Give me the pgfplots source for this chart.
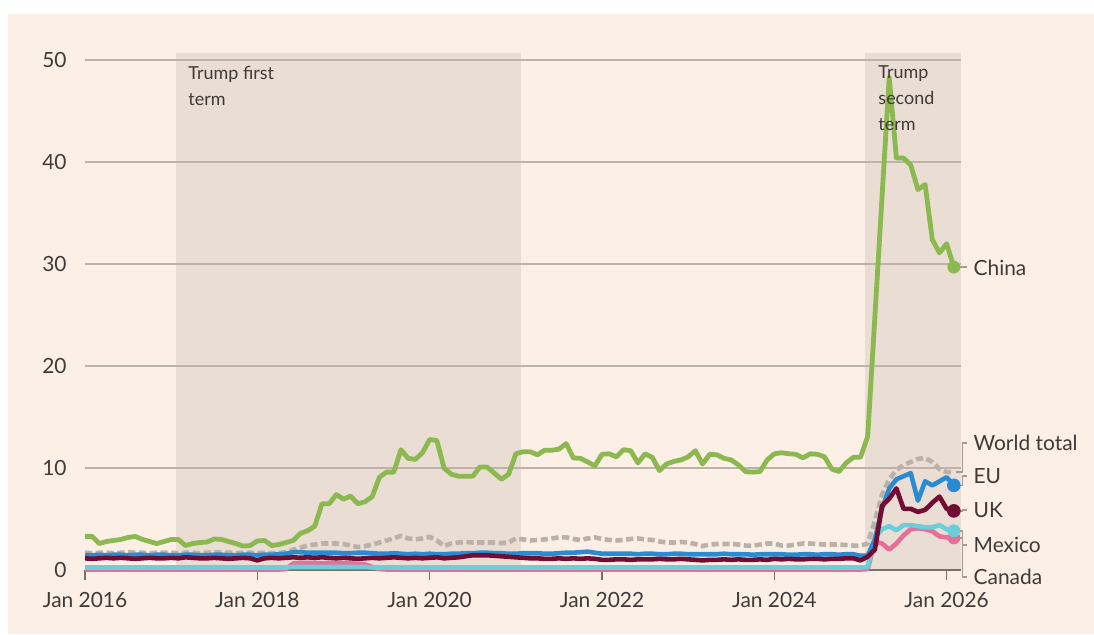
\documentclass[border=0pt]{standalone}
\usepackage{pgfplots}
\pgfplotsset{compat=1.18}
\usepackage{pgfplotstable}
\usepackage{fontspec}
\setmainfont{Lato}

\definecolor{panel}{HTML}{FCF0E6}
\definecolor{shade}{HTML}{E9DDD4}
\definecolor{gridc}{HTML}{BDB2AA}
\definecolor{tickc}{HTML}{77706B}
\definecolor{txt}{HTML}{3F3A38}
\definecolor{leader}{HTML}{A39A94}
\definecolor{chinac}{HTML}{8CB850}
\definecolor{worldc}{HTML}{BAB1AA}
\definecolor{euc}{HTML}{2A8BD0}
\definecolor{ukc}{HTML}{720C33}
\definecolor{mexc}{HTML}{6ACFD8}
\definecolor{canc}{HTML}{E4709A}

\pgfplotsset{
  layers/bgset/.define layer set={bgpanel,axis background,axis grid,axis ticks,
    axis lines,axis tick labels,main,axis descriptions,axis foreground}{},
}

% months since Jan 2016; tariff rate, %
\pgfplotstableread{
m china world eu uk mex can
0 3.3 1.70 1.45 1.15 0.25 0.05
1 3.3 1.65 1.45 1.10 0.25 0.05
2 2.6 1.70 1.50 1.15 0.25 0.05
3 2.8 1.70 1.45 1.20 0.25 0.05
4 2.9 1.65 1.50 1.15 0.25 0.05
5 3.0 1.70 1.50 1.20 0.25 0.05
6 3.2 1.75 1.45 1.15 0.25 0.05
7 3.3 1.70 1.50 1.10 0.25 0.05
8 3.0 1.70 1.50 1.15 0.25 0.05
9 2.8 1.65 1.45 1.20 0.25 0.05
10 2.6 1.70 1.50 1.15 0.25 0.05
11 2.8 1.70 1.50 1.15 0.25 0.05
12 3.0 1.70 1.45 1.20 0.25 0.05
13 3.0 1.65 1.45 1.15 0.25 0.05
14 2.4 1.70 1.50 1.25 0.25 0.05
15 2.6 1.70 1.50 1.20 0.25 0.05
16 2.7 1.65 1.45 1.15 0.25 0.05
17 2.75 1.70 1.45 1.15 0.25 0.05
18 3.05 1.75 1.50 1.20 0.25 0.05
19 3.0 1.70 1.50 1.15 0.25 0.05
20 2.8 1.70 1.45 1.10 0.25 0.05
21 2.6 1.65 1.45 1.15 0.25 0.05
22 2.35 1.70 1.50 1.20 0.25 0.05
23 2.4 1.70 1.50 1.15 0.25 0.05
24 2.85 1.65 1.45 0.95 0.25 0.05
25 2.9 1.70 1.50 1.15 0.25 0.05
26 2.4 1.65 1.50 1.20 0.25 0.05
27 2.5 1.70 1.55 1.15 0.25 0.05
28 2.7 1.75 1.60 1.20 0.25 0.10
29 2.9 2.00 1.75 1.25 0.30 0.65
30 3.6 2.20 1.75 1.20 0.30 0.70
31 3.85 2.40 1.70 1.25 0.30 0.70
32 4.3 2.50 1.70 1.20 0.30 0.70
33 6.5 2.60 1.70 1.25 0.30 0.65
34 6.5 2.60 1.70 1.20 0.30 0.70
35 7.4 2.60 1.70 1.15 0.30 0.70
36 6.95 2.55 1.65 1.20 0.30 0.65
37 7.25 2.40 1.65 1.15 0.30 0.65
38 6.5 2.25 1.70 1.10 0.30 0.60
39 6.7 2.35 1.70 1.15 0.30 0.55
40 7.2 2.50 1.65 1.20 0.25 0.30
41 9.1 2.70 1.60 1.15 0.25 0.10
42 9.6 2.90 1.60 1.20 0.25 0.05
43 9.6 3.10 1.65 1.25 0.25 0.05
44 11.8 3.35 1.60 1.20 0.25 0.05
45 10.95 3.10 1.55 1.15 0.25 0.05
46 10.85 3.00 1.60 1.20 0.25 0.05
47 11.5 3.10 1.55 1.15 0.25 0.05
48 12.8 3.25 1.60 1.20 0.25 0.05
49 12.7 2.90 1.55 1.25 0.25 0.05
50 10.0 2.35 1.55 1.15 0.25 0.05
51 9.4 2.60 1.60 1.20 0.25 0.05
52 9.2 2.70 1.60 1.25 0.25 0.05
53 9.2 2.75 1.65 1.35 0.25 0.05
54 9.2 2.70 1.65 1.45 0.25 0.05
55 10.1 2.70 1.70 1.45 0.25 0.05
56 10.1 2.70 1.70 1.45 0.25 0.05
57 9.5 2.70 1.65 1.40 0.25 0.05
58 8.9 2.65 1.65 1.35 0.25 0.05
59 9.4 2.70 1.60 1.30 0.25 0.05
60 11.4 3.10 1.60 1.25 0.25 0.05
61 11.6 3.00 1.65 1.20 0.25 0.05
62 11.6 2.90 1.65 1.15 0.25 0.05
63 11.3 2.95 1.65 1.15 0.25 0.05
64 11.75 3.00 1.60 1.10 0.25 0.05
65 11.75 3.10 1.60 1.10 0.25 0.05
66 11.85 3.20 1.65 1.15 0.25 0.05
67 12.4 3.20 1.70 1.10 0.25 0.05
68 11.0 3.05 1.70 1.15 0.25 0.05
69 10.95 2.95 1.75 1.10 0.25 0.05
70 10.6 3.10 1.80 1.15 0.25 0.05
71 10.2 3.20 1.70 1.10 0.25 0.05
72 11.35 3.05 1.60 1.00 0.25 0.05
73 11.4 2.95 1.60 1.00 0.25 0.05
74 11.1 2.90 1.60 1.05 0.25 0.05
75 11.8 2.95 1.60 1.05 0.25 0.05
76 11.7 3.05 1.60 1.00 0.25 0.05
77 10.5 3.10 1.55 1.05 0.25 0.05
78 11.4 3.00 1.60 1.05 0.25 0.05
79 11.05 2.95 1.60 1.05 0.25 0.05
80 9.75 2.80 1.55 1.10 0.25 0.05
81 10.4 2.70 1.55 1.05 0.25 0.05
82 10.65 2.70 1.60 1.05 0.25 0.05
83 10.8 2.75 1.60 1.10 0.25 0.05
84 11.1 2.70 1.55 1.05 0.25 0.05
85 11.7 2.55 1.55 1.00 0.25 0.05
86 10.4 2.35 1.55 0.95 0.25 0.05
87 11.35 2.50 1.55 1.00 0.25 0.05
88 11.3 2.55 1.55 1.00 0.25 0.05
89 10.95 2.55 1.60 1.05 0.25 0.05
90 10.8 2.55 1.55 1.00 0.25 0.05
91 10.3 2.50 1.55 1.05 0.25 0.05
92 9.65 2.40 1.55 1.00 0.25 0.05
93 9.6 2.40 1.50 1.00 0.25 0.05
94 9.65 2.50 1.55 1.05 0.25 0.05
95 10.8 2.60 1.55 1.00 0.25 0.05
96 11.4 2.60 1.55 1.10 0.25 0.05
97 11.5 2.40 1.55 1.05 0.25 0.05
98 11.4 2.40 1.50 1.10 0.25 0.05
99 11.35 2.50 1.50 1.05 0.25 0.05
100 11.0 2.60 1.55 1.05 0.25 0.05
101 11.4 2.60 1.55 1.10 0.25 0.05
102 11.35 2.55 1.50 1.10 0.25 0.05
103 11.1 2.50 1.55 1.05 0.25 0.05
104 9.9 2.50 1.55 1.10 0.25 0.05
105 9.65 2.50 1.50 1.10 0.25 0.05
106 10.5 2.45 1.55 1.15 0.25 0.05
107 11.05 2.40 1.55 1.15 0.25 0.05
108 11.05 2.40 1.40 0.95 0.25 0.05
109 13.1 2.60 1.40 1.30 0.30 0.10
110 24.8 4.80 3.00 2.00 3.20 2.80
111 36.6 7.40 6.00 6.30 4.00 2.60
112 48.3 8.90 8.00 7.00 4.30 2.00
113 40.4 9.80 8.90 8.00 3.90 2.60
114 40.4 10.30 9.20 6.00 4.40 3.40
115 39.7 10.60 9.50 6.00 4.40 4.00
116 37.3 10.90 6.80 5.70 4.30 4.10
117 37.8 11.00 8.70 5.90 4.20 4.00
118 32.4 10.60 8.30 6.60 4.20 3.80
119 31.1 9.90 8.70 7.20 4.40 3.30
120 32.0 9.60 9.10 6.00 4.00 3.20
121 29.7 9.60 8.30 5.80 3.85 3.15
}\tariffs

\begin{document}
\begin{tikzpicture}
\begin{axis}[
  set layers=bgset,
  at={(0,0)},anchor=south west,
  scale only axis,width=438bp,height=258.3bp,
  xmin=0,xmax=122,ymin=0,ymax=50.65,
  clip=false,
  axis x line*=bottom,axis y line*=left,
  x axis line style={-,draw=tickc,line width=0.8bp},
  y axis line style={draw=none},
  xtick={0,24,48,72,96,120},
  xticklabels={Jan 2016,Jan 2018,Jan 2020,Jan 2022,Jan 2024,Jan 2026},
  xtick align=outside,major tick length=5bp,
  xtick style={draw=tickc,line width=0.8bp},
  ytick={0,10,20,30,40,50},ytick style={draw=none},
  ymajorgrids,grid style={draw=gridc,line width=1bp},
  /pgf/number format/assume math mode=true,
  tick label style={font=\fontsize{10.5}{12}\selectfont,text=txt},
  yticklabel style={anchor=east,inner sep=0pt,xshift=-9bp},
  xticklabel style={anchor=north,inner sep=0pt,yshift=-6bp},
  every axis plot/.append style={line join=round},
]
\pgfonlayer{bgpanel}
\fill[white] (axis cs:-11.84,-6.28) rectangle (axis cs:140.52,55.89);
\fill[panel] (axis cs:-10.72,-6.28) rectangle (axis cs:140.52,54.52);
\endpgfonlayer

% presidential terms
\addplot[on layer=axis background,draw=none,fill=shade]
  coordinates {(12.65,50.65) (60.65,50.65)} \closedcycle;
\addplot[on layer=axis background,draw=none,fill=shade]
  coordinates {(108.65,50.65) (122,50.65)} \closedcycle;

\addplot[worldc,line width=2.3bp,dash pattern=on 3.6bp off 1.8bp]
  table[x=m,y=world]{\tariffs};
\addplot[canc,line width=2.3bp] table[x=m,y=can]{\tariffs};
\addplot[mexc,line width=2.3bp] table[x=m,y=mex]{\tariffs};
\addplot[euc,line width=2.3bp] table[x=m,y=eu]{\tariffs};
\addplot[ukc,line width=2.3bp] table[x=m,y=uk]{\tariffs};
\addplot[chinac,line width=2.4bp] table[x=m,y=china]{\tariffs};

% end dots
\addplot[canc,only marks,mark=*,mark size=3bp,mark options={draw=none,fill=canc}] coordinates {(121,3.15)};
\addplot[mexc,only marks,mark=*,mark size=3bp,mark options={draw=none,fill=mexc}] coordinates {(121,3.85)};
\addplot[euc,only marks,mark=*,mark size=3.2bp,mark options={draw=none,fill=euc}] coordinates {(121,8.3)};
\addplot[ukc,only marks,mark=*,mark size=3.2bp,mark options={draw=none,fill=ukc}] coordinates {(121,5.8)};
\addplot[chinac,only marks,mark=*,mark size=3bp,mark options={draw=none,fill=chinac}] coordinates {(121,29.7)};

% leaders to labels
\addplot[leader,line width=0.8bp] coordinates {(121.6,29.7) (122.8,29.7)};
\addplot[leader,line width=0.8bp] coordinates {(121.3,9.6) (122.2,9.6) (122.2,12.45) (122.8,12.45)};
\addplot[leader,line width=0.8bp] coordinates {(121.7,8.3) (122.2,8.3) (122.2,9.2) (122.8,9.2)};
\addplot[leader,line width=0.8bp] coordinates {(121.7,5.8) (122.2,5.8) (122.2,5.9) (122.8,5.9)};
\addplot[leader,line width=0.8bp] coordinates {(121.7,3.85) (122.2,3.85) (122.2,2.45) (122.8,2.45)};
\addplot[leader,line width=0.8bp] coordinates {(121.7,3.15) (122.2,3.15) (122.2,-0.7) (122.8,-0.7)};

\begin{scope}[every node/.style={anchor=west,inner sep=0pt,text=txt,
    font=\fontsize{10.5}{12}\selectfont}]
\node at (axis cs:123.7,29.6) {China};
\node at (axis cs:123.7,12.45) {World total};
\node at (axis cs:123.7,9.2) {EU};
\node at (axis cs:123.7,5.9) {UK};
\node at (axis cs:123.7,2.45) {Mexico};
\node at (axis cs:123.7,-0.7) {Canada};
\end{scope}

\node[anchor=north west,align=left,inner sep=0pt,text=txt,
  font=\fontsize{9}{13}\selectfont] at (axis cs:14.35,49.45) {Trump first\\term};
\node[anchor=north west,align=left,inner sep=0pt,text=txt,
  font=\fontsize{9}{13}\selectfont] at (axis cs:110.45,49.45) {Trump\\second\\term};
\end{axis}
\end{tikzpicture}
\end{document}
